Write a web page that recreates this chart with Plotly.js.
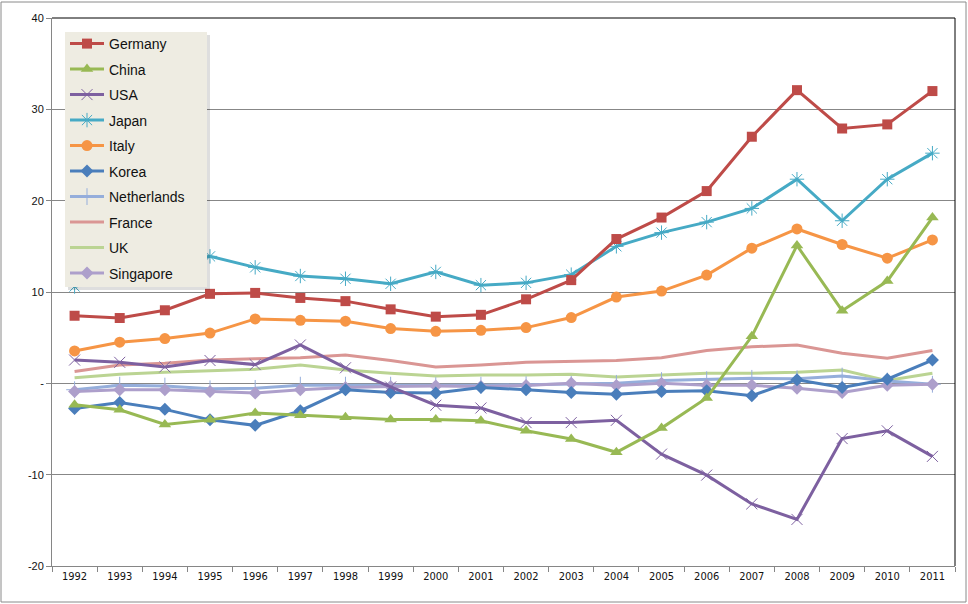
<!DOCTYPE html>
<html>
<head>
<meta charset="utf-8">
<script src="https://cdn.plot.ly/plotly-3.0.1.min.js"></script>
<style>
html,body{margin:0;padding:0;background:#fff;}
#chart{width:968px;height:604px;}
</style>
</head>
<body>
<div id="chart"></div>
<script>
const years = ["1992","1993","1994","1995","1996","1997","1998","1999","2000","2001","2002","2003","2004","2005","2006","2007","2008","2009","2010","2011"];

const germany     = [7.4, 7.15, 8.0, 9.8, 9.9, 9.35, 9.0, 8.1, 7.3, 7.5, 9.2, 11.3, 15.8, 18.15, 21.05, 27.0, 32.1, 27.9, 28.35, 32.0];
const china       = [-2.35, -2.9, -4.5, -4.0, -3.25, -3.5, -3.7, -3.95, -3.95, -4.1, -5.2, -6.1, -7.55, -4.9, -1.6, 5.15, 15.1, 7.95, 11.2, 18.15];
const usa         = [2.55, 2.3, 1.8, 2.5, 2.05, 4.2, 1.7, -0.4, -2.4, -2.7, -4.3, -4.3, -4.05, -7.75, -10.05, -13.2, -14.9, -6.05, -5.2, -8.0];
const japan       = [10.6, 12.0, 13.1, 13.9, 12.7, 11.75, 11.45, 10.9, 12.2, 10.75, 11.0, 11.9, 15.0, 16.5, 17.65, 19.15, 22.35, 17.8, 22.35, 25.2];
const italy       = [3.55, 4.5, 4.9, 5.5, 7.05, 6.9, 6.8, 6.0, 5.7, 5.8, 6.1, 7.2, 9.45, 10.1, 11.85, 14.8, 16.9, 15.2, 13.7, 15.7];
const korea       = [-2.75, -2.1, -2.85, -4.0, -4.6, -3.0, -0.7, -1.0, -1.05, -0.45, -0.7, -1.0, -1.2, -0.9, -0.8, -1.35, 0.4, -0.45, 0.45, 2.55];
const netherlands = [-0.7, -0.2, -0.3, -0.6, -0.55, -0.2, -0.2, -0.2, -0.25, -0.2, -0.15, -0.1, 0.0, 0.3, 0.4, 0.55, 0.5, 0.8, 0.25, -0.1];
const france      = [1.3, 2.0, 2.2, 2.55, 2.7, 2.8, 3.1, 2.5, 1.8, 2.0, 2.3, 2.4, 2.5, 2.8, 3.6, 4.0, 4.2, 3.3, 2.75, 3.6];
const uk          = [0.6, 1.0, 1.2, 1.4, 1.55, 2.0, 1.45, 1.1, 0.8, 0.9, 0.9, 1.0, 0.7, 0.9, 1.1, 1.1, 1.2, 1.45, 0.3, 1.1];
const singapore   = [-0.9, -0.7, -0.7, -0.9, -1.05, -0.7, -0.45, -0.35, -0.3, -0.35, -0.25, 0.0, -0.25, 0.0, -0.2, -0.2, -0.55, -1.0, -0.2, -0.1];

const yTickVals = [-20, -10, 0, 10, 20, 30, 40];
const yTickText = ["-20", "-10", "-", "10", "20", "30", "40"];

function series(name, y, color, symbol, size) {
  const t = {
    x: years, y: y, name: name, type: "scatter",
    legendgroup: name,
    line: {color: color, width: 3},
    hoverinfo: "skip"
  };
  if (symbol) {
    t.mode = "lines+markers";
    const open = symbol.indexOf("open") >= 0;
    t.marker = {symbol: symbol, size: size, color: color,
                line: {color: color, width: open ? 1 : 0}};
  } else {
    t.mode = "lines";
  }
  return t;
}

const data = [
  series("Germany", germany, "#BE4B48", "square", 10),
  series("China", china, "#98B954", "triangle-up", 11),
  series("USA", usa, "#7D60A0", "x-thin-open", 11),
  series("Japan", japan, "#46AAC5", "asterisk-open", 12),
  series("Italy", italy, "#F69545", "circle", 11),
  series("Korea", korea, "#4A7EBB", "diamond", 10),
  series("Netherlands", netherlands, "#95AEDB", "cross-thin-open", 12),
  series("France", france, "#DA9694", null),
  series("UK", uk, "#BBD493", null),
  series("Singapore", singapore, "#AD9FCB", "diamond", 10)
];
// draw order: lighter series below the main ones
const order = [7, 8, 6, 9, 5, 4, 3, 2, 1, 0];
const drawn = order.map(i => data[i]);
drawn.forEach(t => { t.legendrank = data.indexOf(t) + 1; });

const L = 52, R = 955, T = 18, B = 566, W = 968, H = 604;
const pw = R - L, ph = B - T;
const px = v => (v - L) / pw;
const py = v => (B - v) / ph;

const layout = {
  width: W, height: H,
  margin: {l: L, r: W - R, t: T, b: H - B, pad: 0},
  paper_bgcolor: "#ffffff",
  plot_bgcolor: "#ffffff",
  showlegend: true,
  legend: {
    x: px(65), y: py(28), xanchor: "left", yanchor: "top",
    bgcolor: "rgba(0,0,0,0)", borderwidth: 0,
    font: {family: "Liberation Sans, Arial, sans-serif", size: 14, color: "#111"},
    tracegroupgap: 4.3,
    traceorder: "grouped",
    itemwidth: 34
  },
  xaxis: {
    type: "category",
    range: [-0.5, 19.5],
    showgrid: false,
    zeroline: false,
    showline: true, linecolor: "#868686", linewidth: 1,
    ticks: "outside", ticklen: 5, tickcolor: "#868686", tickson: "boundaries",
    tickfont: {family: "Liberation Sans Narrow, Arial Narrow, DejaVu Sans Condensed, sans-serif", size: 11, color: "#111"},
    tickangle: 0,
    fixedrange: true
  },
  yaxis: {
    range: [-20, 40],
    tickvals: yTickVals, ticktext: yTickText,
    showgrid: true, gridcolor: "#878787", gridwidth: 1,
    zeroline: true, zerolinecolor: "#878787", zerolinewidth: 1,
    showline: true, linecolor: "#868686", linewidth: 1,
    ticks: "outside", ticklen: 5, tickcolor: "#868686",
    tickfont: {family: "Liberation Sans, Arial, sans-serif", size: 11, color: "#111"},
    fixedrange: true
  },
  shapes: [
    {type: "rect", xref: "paper", yref: "paper", x0: px(1), x1: px(966), y0: py(602), y1: py(2),
     line: {color: "#8a8a8a", width: 1}, fillcolor: "rgba(0,0,0,0)", layer: "below"},
    {type: "line", xref: "paper", yref: "paper", x0: 0, x1: 1, y0: 1, y1: 1, line: {color: "#000", width: 1}, layer: "above"},
    {type: "line", xref: "paper", yref: "paper", x0: 1, x1: 1, y0: 0, y1: 1, line: {color: "#000", width: 1}, layer: "above"},
    {type: "rect", xref: "paper", yref: "paper", x0: px(68), x1: px(210), y0: py(290), y1: py(35),
     line: {width: 0}, fillcolor: "rgba(0,0,0,0.13)", layer: "above"},
    {type: "rect", xref: "paper", yref: "paper", x0: px(65), x1: px(207), y0: py(287), y1: py(32),
     line: {width: 0}, fillcolor: "#EEECE2", layer: "above"}
  ]
};

Plotly.newPlot("chart", drawn, layout, {displayModeBar: false, staticPlot: true});
</script>
</body>
</html>
